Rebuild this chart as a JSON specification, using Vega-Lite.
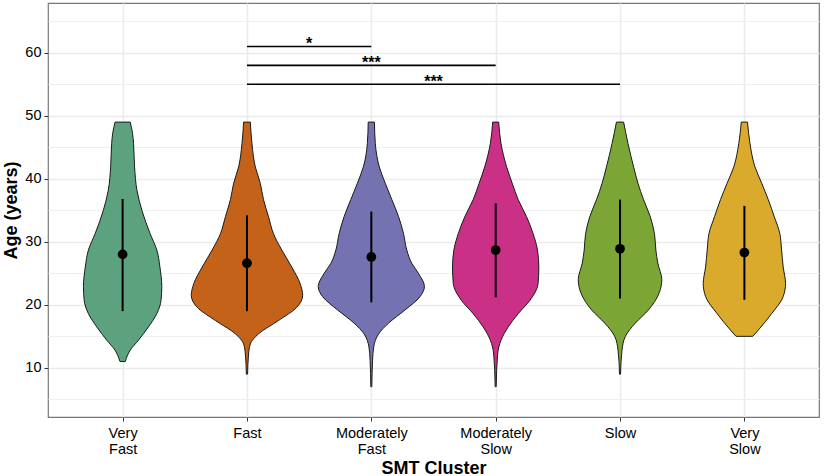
{
  "$schema": "https://vega.github.io/schema/vega-lite/v6.json",
  "width": 771,
  "height": 414,
  "autosize": "none",
  "padding": {"left": 48, "top": 3, "right": 10, "bottom": 59},
  "background": "white",
  "config": {
    "font": "Liberation Sans",
    "view": {"stroke": "#777777", "strokeWidth": 1.2}
  },
  "datasets": {
    "violin": [
      {"cluster": "Very Fast", "age": 11.0, "lo": 0.979, "hi": 1.021},
      {"cluster": "Very Fast", "age": 12.8, "lo": 0.939, "hi": 1.061},
      {"cluster": "Very Fast", "age": 14.4, "lo": 0.872, "hi": 1.128},
      {"cluster": "Very Fast", "age": 16.5, "lo": 0.792, "hi": 1.208},
      {"cluster": "Very Fast", "age": 18.6, "lo": 0.725, "hi": 1.275},
      {"cluster": "Very Fast", "age": 20.7, "lo": 0.691, "hi": 1.309},
      {"cluster": "Very Fast", "age": 22.9, "lo": 0.685, "hi": 1.315},
      {"cluster": "Very Fast", "age": 26.0, "lo": 0.700, "hi": 1.300},
      {"cluster": "Very Fast", "age": 28.7, "lo": 0.725, "hi": 1.275},
      {"cluster": "Very Fast", "age": 31.3, "lo": 0.779, "hi": 1.221},
      {"cluster": "Very Fast", "age": 35.0, "lo": 0.845, "hi": 1.155},
      {"cluster": "Very Fast", "age": 38.2, "lo": 0.885, "hi": 1.115},
      {"cluster": "Very Fast", "age": 41.9, "lo": 0.904, "hi": 1.096},
      {"cluster": "Very Fast", "age": 45.6, "lo": 0.912, "hi": 1.088},
      {"cluster": "Very Fast", "age": 47.2, "lo": 0.920, "hi": 1.080},
      {"cluster": "Very Fast", "age": 49.0, "lo": 0.939, "hi": 1.061},

      {"cluster": "Fast", "age": 9.0, "lo": 1.995, "hi": 2.005},
      {"cluster": "Fast", "age": 12.2, "lo": 1.987, "hi": 2.013},
      {"cluster": "Fast", "age": 13.8, "lo": 1.973, "hi": 2.027},
      {"cluster": "Fast", "age": 15.4, "lo": 1.907, "hi": 2.093},
      {"cluster": "Fast", "age": 17.5, "lo": 1.747, "hi": 2.253},
      {"cluster": "Fast", "age": 19.6, "lo": 1.600, "hi": 2.400},
      {"cluster": "Fast", "age": 21.5, "lo": 1.552, "hi": 2.448},
      {"cluster": "Fast", "age": 23.4, "lo": 1.573, "hi": 2.427},
      {"cluster": "Fast", "age": 26.0, "lo": 1.640, "hi": 2.360},
      {"cluster": "Fast", "age": 28.7, "lo": 1.720, "hi": 2.280},
      {"cluster": "Fast", "age": 31.3, "lo": 1.787, "hi": 2.213},
      {"cluster": "Fast", "age": 34.0, "lo": 1.827, "hi": 2.173},
      {"cluster": "Fast", "age": 36.7, "lo": 1.867, "hi": 2.133},
      {"cluster": "Fast", "age": 39.3, "lo": 1.893, "hi": 2.107},
      {"cluster": "Fast", "age": 41.9, "lo": 1.933, "hi": 2.067},
      {"cluster": "Fast", "age": 45.6, "lo": 1.960, "hi": 2.040},
      {"cluster": "Fast", "age": 49.0, "lo": 1.973, "hi": 2.027},

      {"cluster": "Moderately Fast", "age": 7.0, "lo": 2.996, "hi": 3.004},
      {"cluster": "Moderately Fast", "age": 11.2, "lo": 2.990, "hi": 3.010},
      {"cluster": "Moderately Fast", "age": 13.3, "lo": 2.981, "hi": 3.019},
      {"cluster": "Moderately Fast", "age": 15.4, "lo": 2.941, "hi": 3.059},
      {"cluster": "Moderately Fast", "age": 17.1, "lo": 2.861, "hi": 3.139},
      {"cluster": "Moderately Fast", "age": 19.2, "lo": 2.728, "hi": 3.272},
      {"cluster": "Moderately Fast", "age": 21.3, "lo": 2.608, "hi": 3.392},
      {"cluster": "Moderately Fast", "age": 22.9, "lo": 2.573, "hi": 3.427},
      {"cluster": "Moderately Fast", "age": 25.0, "lo": 2.621, "hi": 3.379},
      {"cluster": "Moderately Fast", "age": 26.6, "lo": 2.675, "hi": 3.325},
      {"cluster": "Moderately Fast", "age": 28.7, "lo": 2.715, "hi": 3.285},
      {"cluster": "Moderately Fast", "age": 31.3, "lo": 2.741, "hi": 3.259},
      {"cluster": "Moderately Fast", "age": 34.0, "lo": 2.781, "hi": 3.219},
      {"cluster": "Moderately Fast", "age": 36.7, "lo": 2.835, "hi": 3.165},
      {"cluster": "Moderately Fast", "age": 39.3, "lo": 2.888, "hi": 3.112},
      {"cluster": "Moderately Fast", "age": 41.9, "lo": 2.936, "hi": 3.064},
      {"cluster": "Moderately Fast", "age": 45.6, "lo": 2.968, "hi": 3.032},
      {"cluster": "Moderately Fast", "age": 49.0, "lo": 2.975, "hi": 3.025},

      {"cluster": "Moderately Slow", "age": 7.0, "lo": 3.996, "hi": 4.004},
      {"cluster": "Moderately Slow", "age": 12.2, "lo": 3.984, "hi": 4.016},
      {"cluster": "Moderately Slow", "age": 14.4, "lo": 3.957, "hi": 4.043},
      {"cluster": "Moderately Slow", "age": 16.5, "lo": 3.899, "hi": 4.101},
      {"cluster": "Moderately Slow", "age": 18.6, "lo": 3.819, "hi": 4.181},
      {"cluster": "Moderately Slow", "age": 20.7, "lo": 3.725, "hi": 4.275},
      {"cluster": "Moderately Slow", "age": 23.4, "lo": 3.659, "hi": 4.341},
      {"cluster": "Moderately Slow", "age": 26.0, "lo": 3.653, "hi": 4.347},
      {"cluster": "Moderately Slow", "age": 28.7, "lo": 3.664, "hi": 4.336},
      {"cluster": "Moderately Slow", "age": 31.3, "lo": 3.699, "hi": 4.301},
      {"cluster": "Moderately Slow", "age": 34.0, "lo": 3.752, "hi": 4.248},
      {"cluster": "Moderately Slow", "age": 36.7, "lo": 3.819, "hi": 4.181},
      {"cluster": "Moderately Slow", "age": 39.3, "lo": 3.867, "hi": 4.133},
      {"cluster": "Moderately Slow", "age": 41.9, "lo": 3.912, "hi": 4.088},
      {"cluster": "Moderately Slow", "age": 45.6, "lo": 3.957, "hi": 4.043},
      {"cluster": "Moderately Slow", "age": 49.0, "lo": 3.976, "hi": 4.024},

      {"cluster": "Slow", "age": 9.0, "lo": 4.996, "hi": 5.004},
      {"cluster": "Slow", "age": 12.8, "lo": 4.984, "hi": 5.016},
      {"cluster": "Slow", "age": 15.0, "lo": 4.957, "hi": 5.043},
      {"cluster": "Slow", "age": 17.1, "lo": 4.877, "hi": 5.123},
      {"cluster": "Slow", "age": 19.2, "lo": 4.771, "hi": 5.229},
      {"cluster": "Slow", "age": 21.9, "lo": 4.685, "hi": 5.315},
      {"cluster": "Slow", "age": 24.0, "lo": 4.664, "hi": 5.336},
      {"cluster": "Slow", "age": 26.6, "lo": 4.696, "hi": 5.304},
      {"cluster": "Slow", "age": 28.7, "lo": 4.712, "hi": 5.288},
      {"cluster": "Slow", "age": 31.3, "lo": 4.723, "hi": 5.277},
      {"cluster": "Slow", "age": 34.0, "lo": 4.757, "hi": 5.243},
      {"cluster": "Slow", "age": 36.7, "lo": 4.811, "hi": 5.189},
      {"cluster": "Slow", "age": 39.3, "lo": 4.856, "hi": 5.144},
      {"cluster": "Slow", "age": 41.9, "lo": 4.891, "hi": 5.109},
      {"cluster": "Slow", "age": 45.6, "lo": 4.936, "hi": 5.064},
      {"cluster": "Slow", "age": 49.0, "lo": 4.971, "hi": 5.029},

      {"cluster": "Very Slow", "age": 15.0, "lo": 5.933, "hi": 6.067},
      {"cluster": "Very Slow", "age": 16.0, "lo": 5.888, "hi": 6.112},
      {"cluster": "Very Slow", "age": 18.6, "lo": 5.781, "hi": 6.219},
      {"cluster": "Very Slow", "age": 21.3, "lo": 5.688, "hi": 6.312},
      {"cluster": "Very Slow", "age": 23.4, "lo": 5.669, "hi": 6.331},
      {"cluster": "Very Slow", "age": 26.0, "lo": 5.688, "hi": 6.312},
      {"cluster": "Very Slow", "age": 28.7, "lo": 5.701, "hi": 6.299},
      {"cluster": "Very Slow", "age": 31.3, "lo": 5.715, "hi": 6.285},
      {"cluster": "Very Slow", "age": 34.0, "lo": 5.760, "hi": 6.240},
      {"cluster": "Very Slow", "age": 36.7, "lo": 5.808, "hi": 6.192},
      {"cluster": "Very Slow", "age": 39.3, "lo": 5.861, "hi": 6.139},
      {"cluster": "Very Slow", "age": 41.9, "lo": 5.915, "hi": 6.085},
      {"cluster": "Very Slow", "age": 45.6, "lo": 5.955, "hi": 6.045},
      {"cluster": "Very Slow", "age": 49.0, "lo": 5.975, "hi": 6.025}
    ],
    "summary": [
      {"cluster": "Very Fast", "pos": 1, "mean": 28.0, "lo": 19.0, "hi": 36.8},
      {"cluster": "Fast", "pos": 2, "mean": 26.6, "lo": 19.0, "hi": 34.2},
      {"cluster": "Moderately Fast", "pos": 3, "mean": 27.6, "lo": 20.4, "hi": 34.8},
      {"cluster": "Moderately Slow", "pos": 4, "mean": 28.7, "lo": 21.2, "hi": 36.1},
      {"cluster": "Slow", "pos": 5, "mean": 28.9, "lo": 21.0, "hi": 36.7},
      {"cluster": "Very Slow", "pos": 6, "mean": 28.3, "lo": 20.8, "hi": 35.7}
    ],
    "sig": [
      {"from": 2, "to": 3, "mid": 2.5, "y": 61, "label": "*"},
      {"from": 2, "to": 4, "mid": 3.0, "y": 58, "label": "***"},
      {"from": 2, "to": 5, "mid": 3.5, "y": 55, "label": "***"}
    ]
  },
  "layer": [
    {
      "data": {"name": "violin"},
      "mark": {"type": "area", "orient": "horizontal", "interpolate": "monotone", "stroke": "#1a1a1a", "strokeWidth": 1, "fillOpacity": 1},
      "encoding": {
        "y": {
          "field": "age", "type": "quantitative",
          "scale": {"domain": [2.2, 67.9], "nice": false, "zero": false},
          "axis": {
            "values": [10, 20, 30, 40, 50, 60],
            "grid": true, "gridColor": "#EBEBEB", "gridWidth": 1.5,
            "domain": false,
            "ticks": true, "tickColor": "#333333", "tickSize": 4, "tickWidth": 1,
            "labelFontSize": 14.5, "labelColor": "#000000", "labelPadding": 3,
            "title": "Age (years)", "titleFontSize": 18, "titleFontWeight": "bold", "titleColor": "#000000",
            "titleX": -31.5, "titleY": 207, "titleAngle": -90, "titleAlign": "center", "titleBaseline": "alphabetic"
          }
        },
        "x": {
          "field": "lo", "type": "quantitative",
          "scale": {"domain": [0.4, 6.6], "nice": false, "zero": false},
          "axis": {
            "values": [1, 2, 3, 4, 5, 6],
            "grid": true, "gridColor": "#EBEBEB", "gridWidth": 1.5,
            "domain": false,
            "ticks": true, "tickColor": "#333333", "tickSize": 4, "tickWidth": 1,
            "labelFontSize": 14.5, "labelColor": "#000000", "labelPadding": 5, "labelLineHeight": 16,
            "labelFlush": false, "labelOverlap": false,
            "labelExpr": "datum.value == 1 ? ['Very', 'Fast'] : datum.value == 2 ? 'Fast' : datum.value == 3 ? ['Moderately', 'Fast'] : datum.value == 4 ? ['Moderately', 'Slow'] : datum.value == 5 ? 'Slow' : ['Very', 'Slow']",
            "title": "SMT Cluster", "titleFontSize": 18, "titleFontWeight": "bold", "titleColor": "#000000",
            "titleY": 56, "titleBaseline": "alphabetic"
          }
        },
        "x2": {"field": "hi"},
        "fill": {
          "field": "cluster", "type": "nominal",
          "scale": {
            "domain": ["Very Fast", "Fast", "Moderately Fast", "Moderately Slow", "Slow", "Very Slow"],
            "range": ["#5DA27E", "#C4621A", "#7572B2", "#C93086", "#7BA636", "#D9AA2C"]
          },
          "legend": null
        }
      }
    },
    {
      "data": {"name": "summary"},
      "mark": {"type": "rule", "strokeWidth": 2, "color": "#000000"},
      "encoding": {
        "x": {"field": "pos", "type": "quantitative", "scale": {"domain": [0.4, 6.6], "nice": false, "zero": false}},
        "y": {
          "field": "lo", "type": "quantitative",
          "scale": {"domain": [2.2, 67.9], "nice": false, "zero": false},
          "axis": {
            "orient": "left",
            "values": [5, 15, 25, 35, 45, 55, 65],
            "grid": true, "gridColor": "#EFEFEF", "gridWidth": 1,
            "labels": false, "ticks": false, "domain": false, "title": null
          }
        },
        "y2": {"field": "hi"}
      }
    },
    {
      "data": {"name": "summary"},
      "mark": {"type": "point", "filled": true, "shape": "circle", "size": 95, "color": "#000000", "opacity": 1},
      "encoding": {
        "x": {"field": "pos", "type": "quantitative", "scale": {"domain": [0.4, 6.6], "nice": false, "zero": false}},
        "y": {"field": "mean", "type": "quantitative", "scale": {"domain": [2.2, 67.9], "nice": false, "zero": false}, "axis": null}
      }
    },
    {
      "data": {"name": "sig"},
      "mark": {"type": "rule", "strokeWidth": 1.6, "color": "#000000"},
      "encoding": {
        "x": {"field": "from", "type": "quantitative", "scale": {"domain": [0.4, 6.6], "nice": false, "zero": false}},
        "x2": {"field": "to"},
        "y": {"field": "y", "type": "quantitative", "scale": {"domain": [2.2, 67.9], "nice": false, "zero": false}, "axis": null}
      }
    },
    {
      "data": {"name": "sig"},
      "mark": {"type": "text", "fontSize": 16, "fontWeight": "bold", "baseline": "alphabetic", "align": "center", "dy": 3, "color": "#000000"},
      "encoding": {
        "x": {"field": "mid", "type": "quantitative", "scale": {"domain": [0.4, 6.6], "nice": false, "zero": false}},
        "y": {"field": "y", "type": "quantitative", "scale": {"domain": [2.2, 67.9], "nice": false, "zero": false}, "axis": null},
        "text": {"field": "label"}
      }
    }
  ],
  "resolve": {"axis": {"y": "independent"}}
}
